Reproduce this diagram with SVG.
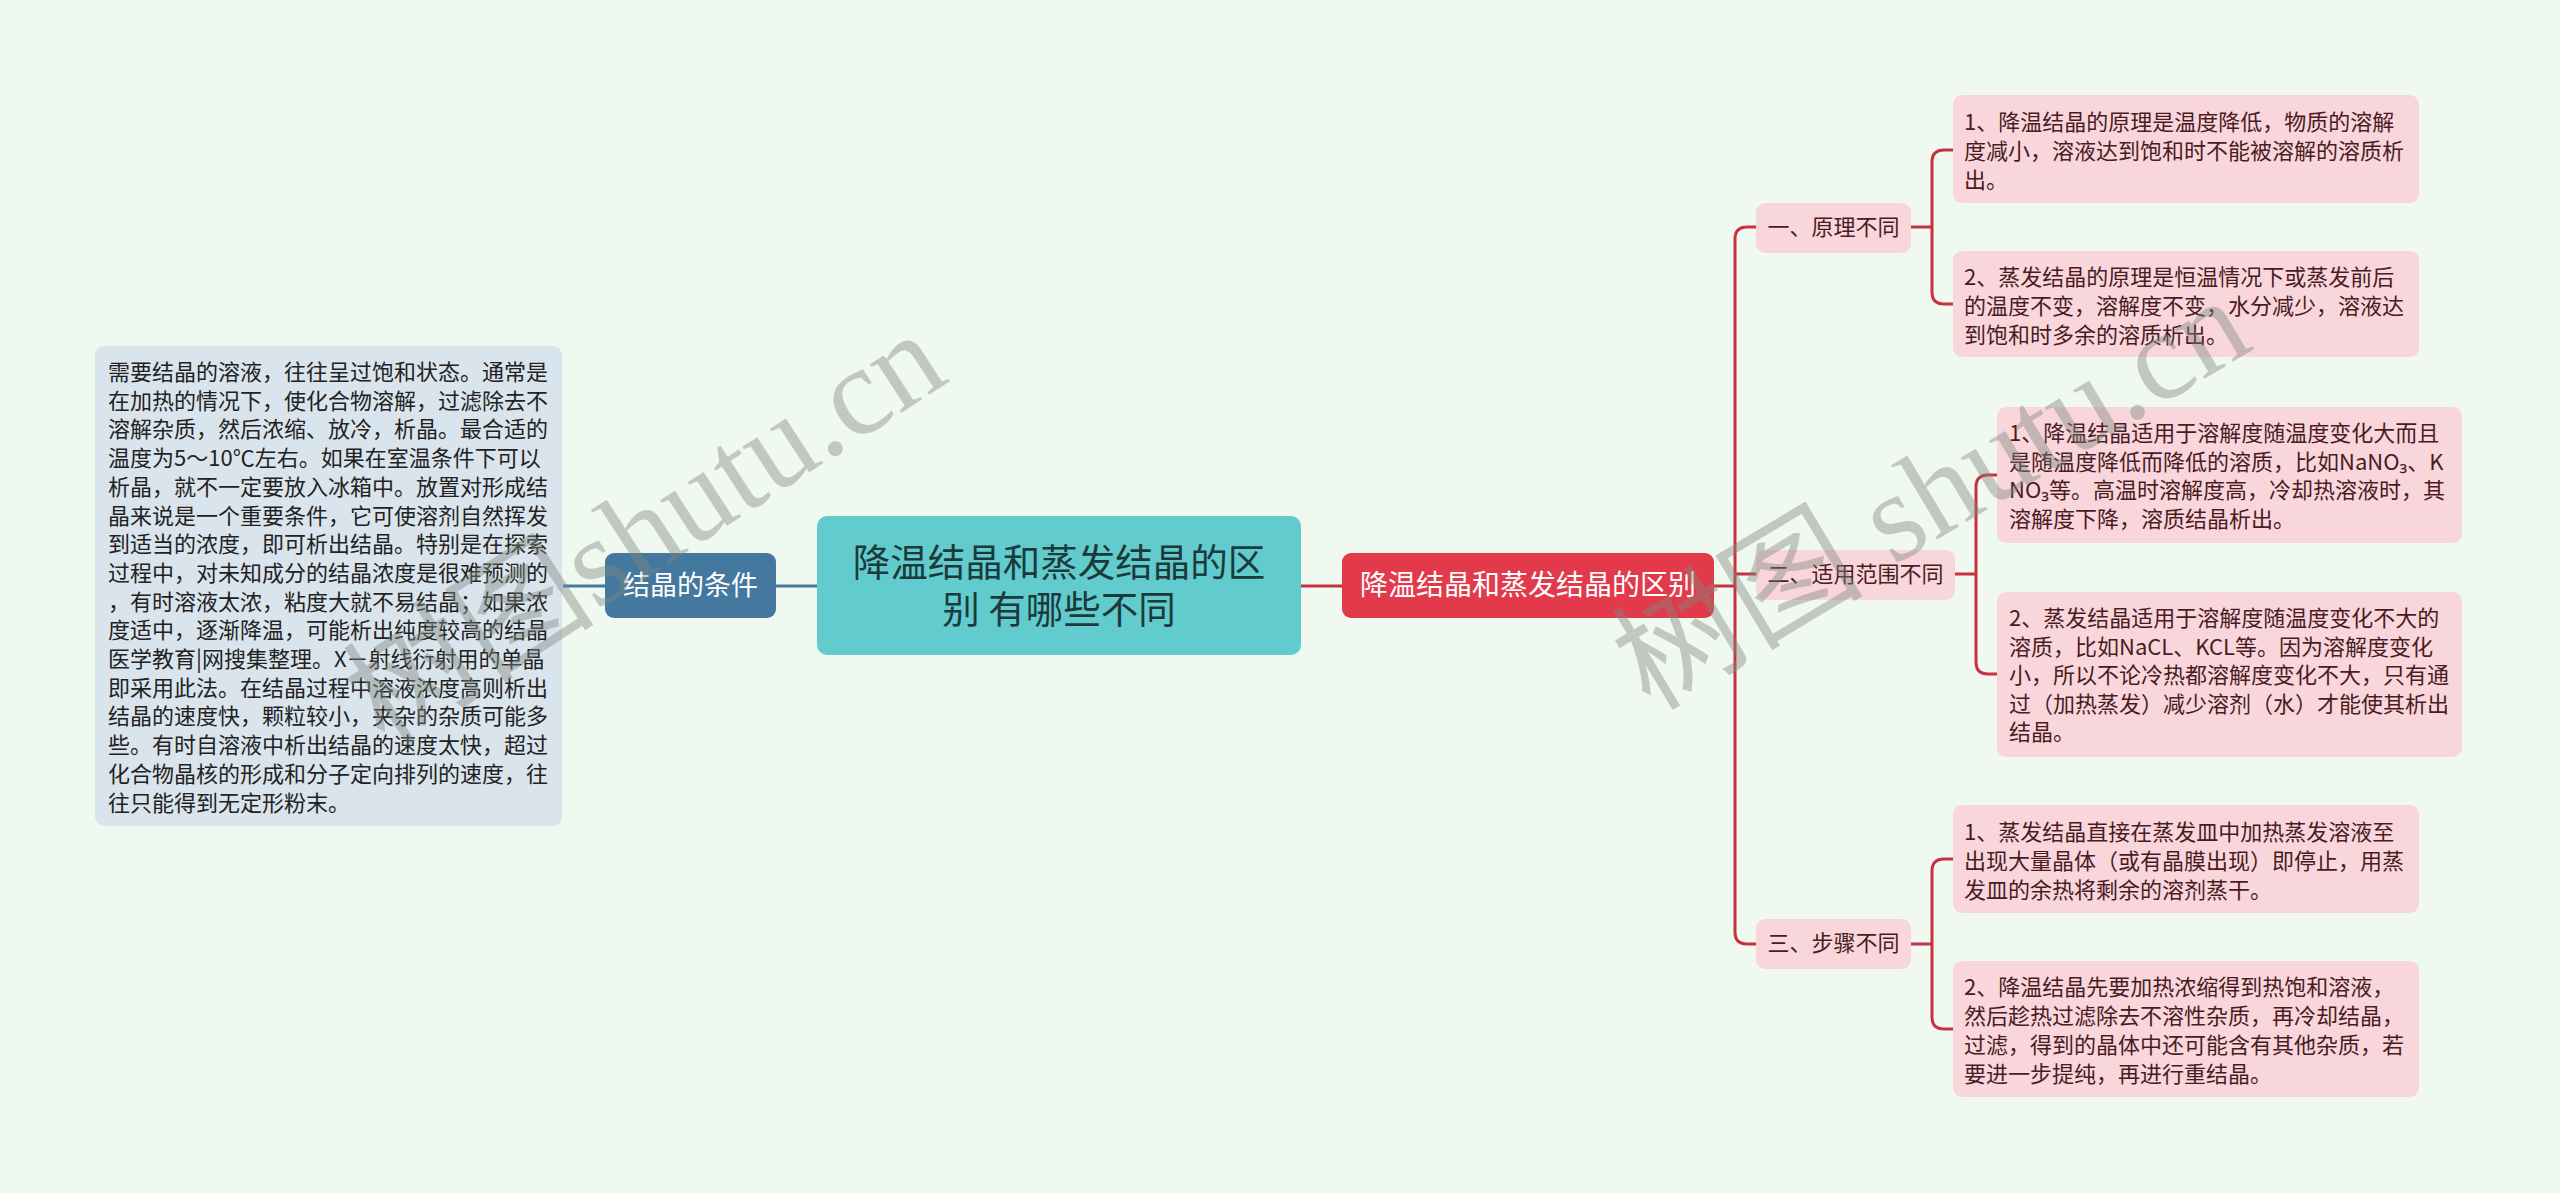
<svg xmlns="http://www.w3.org/2000/svg" width="2560" height="1193" viewBox="0 0 2560 1193">
<style>
text{font-family:"Noto Sans CJK SC","Noto Sans",sans-serif}
.bg{fill:#f0f9ef}
.pink{fill:#f9d6db}
.leaf{font-size:22px;fill:#4a1b1f}
.mid{font-size:22px;fill:#4a1b1f;text-anchor:middle}
.desc{font-size:22px;fill:#222}
.red{fill:none;stroke:#c8323f;stroke-width:3;stroke-linecap:round;stroke-linejoin:round}
.blue{fill:none;stroke:#45789e;stroke-width:3}
.wm{font-family:"Liberation Serif","Noto Sans CJK SC",serif;font-size:126px;fill:#7f877f;opacity:0.42}
</style>
<rect class="bg" x="0" y="0" width="2560" height="1193"/>
<g id="connectors">
<path class="blue" d="M563 586H605M776 586H817"/>
<path class="red" d="M1301 586H1342M1714 586H1735"/>
<path class="red" d="M1756 227H1747Q1735 227 1735 239V932Q1735 944 1747 944H1756M1735 574H1756"/>
<path class="red" d="M1911 227H1932M1953 150H1944Q1932 150 1932 162V292Q1932 304 1944 304H1953"/>
<path class="red" d="M1955 574H1976M1997 475H1988Q1976 475 1976 487V662Q1976 674 1988 674H1997"/>
<path class="red" d="M1911 944H1932M1953 859H1944Q1932 859 1932 871V1017Q1932 1029 1944 1029H1953"/>
</g>
<g id="desc">
<rect x="95" y="346" width="467" height="480" rx="9" fill="#dae4ec"/>
<text class="desc" x="108" y="380">需要结晶的溶液，往往呈过饱和状态。通常是</text>
<text class="desc" x="108" y="408.7">在加热的情况下，使化合物溶解，过滤除去不</text>
<text class="desc" x="108" y="437.4">溶解杂质，然后浓缩、放冷，析晶。最合适的</text>
<text class="desc" x="108" y="466.1">温度为5～10℃左右。如果在室温条件下可以</text>
<text class="desc" x="108" y="494.8">析晶，就不一定要放入冰箱中。放置对形成结</text>
<text class="desc" x="108" y="523.5">晶来说是一个重要条件，它可使溶剂自然挥发</text>
<text class="desc" x="108" y="552.2">到适当的浓度，即可析出结晶。特别是在探索</text>
<text class="desc" x="108" y="580.9">过程中，对未知成分的结晶浓度是很难预测的</text>
<text class="desc" x="108" y="609.6">，有时溶液太浓，粘度大就不易结晶；如果浓</text>
<text class="desc" x="108" y="638.3">度适中，逐渐降温，可能析出纯度较高的结晶</text>
<text class="desc" x="108" y="667">医学教育|网搜集整理。X－射线衍射用的单晶</text>
<text class="desc" x="108" y="695.7">即采用此法。在结晶过程中溶液浓度高则析出</text>
<text class="desc" x="108" y="724.4">结晶的速度快，颗粒较小，夹杂的杂质可能多</text>
<text class="desc" x="108" y="753.1">些。有时自溶液中析出结晶的速度太快，超过</text>
<text class="desc" x="108" y="781.8">化合物晶核的形成和分子定向排列的速度，往</text>
<text class="desc" x="108" y="810.5">往只能得到无定形粉末。</text>
</g>
<g id="cond">
<rect x="605" y="553" width="171" height="65" rx="9" fill="#45789e"/>
<text x="690.5" y="595" font-size="27" fill="#fff" text-anchor="middle">结晶的条件</text>
</g>
<g id="root">
<rect x="817" y="516" width="484" height="139" rx="10" fill="#61cbcd"/>
<text x="1059" y="576" font-size="37.5" fill="#1c3a3b" text-anchor="middle">降温结晶和蒸发结晶的区</text>
<text x="1059" y="623" font-size="37.5" fill="#1c3a3b" text-anchor="middle">别 有哪些不同</text>
</g>
<g id="main">
<rect x="1342" y="553" width="372" height="65" rx="9" fill="#e23a4b"/>
<text x="1528" y="595" font-size="28" fill="#fff" text-anchor="middle">降温结晶和蒸发结晶的区别</text>
</g>
<g id="n1">
<rect class="pink" x="1756" y="203" width="155" height="50" rx="9"/>
<text class="mid" x="1833.5" y="235">一、原理不同</text>
</g>
<g id="n1a">
<rect class="pink" x="1953" y="95" width="466" height="108" rx="9"/>
<text class="leaf" x="1964" y="130">1、降温结晶的原理是温度降低，物质的溶解</text>
<text class="leaf" x="1964" y="159">度减小，溶液达到饱和时不能被溶解的溶质析</text>
<text class="leaf" x="1964" y="188">出。</text>
</g>
<g id="n1b">
<rect class="pink" x="1953" y="251" width="466" height="106" rx="9"/>
<text class="leaf" x="1964" y="285">2、蒸发结晶的原理是恒温情况下或蒸发前后</text>
<text class="leaf" x="1964" y="314">的温度不变，溶解度不变，水分减少，溶液达</text>
<text class="leaf" x="1964" y="343">到饱和时多余的溶质析出。</text>
</g>
<g id="n2">
<rect class="pink" x="1756" y="550" width="199" height="50" rx="9"/>
<text class="mid" x="1855.5" y="582">二、适用范围不同</text>
</g>
<g id="n2a">
<rect class="pink" x="1997" y="407" width="465" height="136" rx="9"/>
<text class="leaf" x="2009" y="441">1、降温结晶适用于溶解度随温度变化大而且</text>
<text class="leaf" x="2009" y="469.5">是随温度降低而降低的溶质，比如NaNO₃、K</text>
<text class="leaf" x="2009" y="498">NO₃等。高温时溶解度高，冷却热溶液时，其</text>
<text class="leaf" x="2009" y="526.5">溶解度下降，溶质结晶析出。</text>
</g>
<g id="n2b">
<rect class="pink" x="1997" y="592" width="465" height="165" rx="9"/>
<text class="leaf" x="2009" y="626">2、蒸发结晶适用于溶解度随温度变化不大的</text>
<text class="leaf" x="2009" y="654.5">溶质，比如NaCL、KCL等。因为溶解度变化</text>
<text class="leaf" x="2009" y="683">小，所以不论冷热都溶解度变化不大，只有通</text>
<text class="leaf" x="2009" y="711.5">过（加热蒸发）减少溶剂（水）才能使其析出</text>
<text class="leaf" x="2009" y="740">结晶。</text>
</g>
<g id="n3">
<rect class="pink" x="1756" y="919" width="155" height="50" rx="9"/>
<text class="mid" x="1833.5" y="951">三、步骤不同</text>
</g>
<g id="n3a">
<rect class="pink" x="1953" y="805" width="466" height="108" rx="9"/>
<text class="leaf" x="1964" y="840">1、蒸发结晶直接在蒸发皿中加热蒸发溶液至</text>
<text class="leaf" x="1964" y="869">出现大量晶体（或有晶膜出现）即停止，用蒸</text>
<text class="leaf" x="1964" y="898">发皿的余热将剩余的溶剂蒸干。</text>
</g>
<g id="n3b">
<rect class="pink" x="1953" y="961" width="466" height="136" rx="9"/>
<text class="leaf" x="1964" y="995">2、降温结晶先要加热浓缩得到热饱和溶液，</text>
<text class="leaf" x="1964" y="1024">然后趁热过滤除去不溶性杂质，再冷却结晶，</text>
<text class="leaf" x="1964" y="1053">过滤，得到的晶体中还可能含有其他杂质，若</text>
<text class="leaf" x="1964" y="1082">要进一步提纯，再进行重结晶。</text>
</g>
<g id="watermarks">
<text class="wm" transform="translate(385 748) rotate(-33)">树图shutu.cn</text>
<text class="wm" transform="translate(1650 712) rotate(-31)">树图 shutu.cn</text>
</g>
</svg>
